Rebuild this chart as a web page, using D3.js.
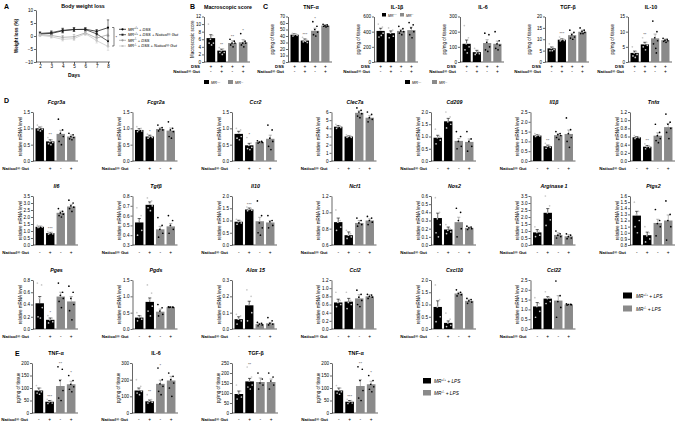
<!DOCTYPE html>
<html>
<head>
<meta charset="utf-8">
<script src="https://cdn.jsdelivr.net/npm/d3@7"></script>
<style>
body { margin: 0; background: #fff; }
text { font-family: "Liberation Sans", Arial, sans-serif; }
</style>
</head>
<body>
<svg id="fig" width="677" height="423"></svg>
<script>
// ---------- data ----------
var days = [2, 3, 4, 5, 6, 7, 8];
var weightGeno = ["+/+", "+/+", "-/-", "-/-"];
var weightLabels = [" + DSS", " + DSS + Naticol® Gut", " + DSS", " + DSS + Naticol® Gut"];
var weightMean = [
	[0.8, 1.0, 2.0, 2.5, 2.6, 1.8, 3.2],
	[1.0, 1.3, 2.2, 2.5, 2.5, 0.8, -2.0],
	[0.5, 0.2, -0.5, -0.3, 1.2, -0.8, 0.5],
	[0.3, -0.3, -1.3, -1.0, 0.9, -1.8, -4.0]
];
var weightErr = [
	[0.6, 0.6, 0.8, 0.7, 0.6, 0.7, 3.0],
	[0.6, 0.7, 0.8, 0.7, 0.6, 0.8, 2.0],
	[0.5, 0.5, 0.7, 0.9, 0.6, 0.8, 2.0],
	[0.5, 0.5, 0.6, 0.7, 0.7, 0.9, 1.5]
];
var weightTicks = [-10, -5, 0, 5, 10];

var scoreTicks = [0, 12, 2];
var scoreMean = [6.3, 3.0, 5.0, 5.2];
var scoreErr = [0.9, 0.4, 0.6, 0.7];
var scoreDots = [[10, 7, 6, 5, 5, 4.5], [3.8, 3.5, 3, 2.5, 2.5, 2], [6, 5.5, 5, 5, 4.5, 4], [7.5, 5.5, 5, 5, 4.5, 4]];
var scoreStars = ["", "**", "**", "*"];

var cytoNames = ["TNF-α", "IL-1β", "IL-6", "TGF-β", "IL-10"];
var cytoTicks = [[0, 70, 10], [0, 600, 200], [0, 300, 100], [0, 20, 5], [0, 15, 5]];
var cytoMean = [[42, 33, 48, 56], [410, 380, 410, 420], [120, 65, 125, 120], [6, 9.8, 11.8, 13.3], [3, 5.8, 7.8, 7.2]];
var cytoErr = [[1.5, 2.5, 4, 1.5], [35, 30, 20, 40], [25, 12, 22, 18], [0.6, 0.4, 0.8, 0.7], [0.6, 0.7, 1.4, 0.4]];
var cytoDots = [
	[[44, 43, 42, 41, 40, 43], [38, 35, 33, 30, 31, 32], [62, 55, 50, 46, 42, 40], [58, 57, 56, 55, 55, 54]],
	[[500, 460, 420, 380, 330, 350], [450, 420, 380, 340, 320], [470, 440, 410, 400, 380, 360], [520, 490, 450, 400, 360, 320]],
	[[240, 160, 120, 100, 80, 60], [90, 70, 60, 55, 50], [190, 180, 130, 100, 80, 70], [200, 140, 120, 110, 90, 80]],
	[[8, 6.5, 6, 5.5, 5, 5], [11, 10.2, 9.8, 9.5, 9.3], [14, 13, 12, 11, 10.5, 10], [15, 14, 13.5, 13, 12.5, 12.5]],
	[[5, 3.5, 3, 2.5, 2, 1.5], [8, 6.5, 6, 5.5, 5, 4], [13.5, 10, 8, 7, 6, 4.5, 3], [7.8, 7.5, 7.2, 7, 6.8, 6.5]]
];
var cytoStars = [["", "***", "*", ""], ["", "", "", ""], ["", "", "", ""], ["", "***", "", ""], ["", "**", "", ""]];

var geneNames = ["Fcgr3a", "Fcgr2a", "Ccr2", "Clec7a", "Cd209", "Il1β", "Tnfα",
	"Il6", "Tgfβ", "Il10", "Ncf1", "Nos2", "Arginase 1", "Ptgs2",
	"Pges", "Pgds", "Alox 15", "Ccl2", "Cxcl10", "Ccl22"];
var geneTicks = [[0, 1.5, 0.5], [0, 1.5, 0.5], [0, 1.5, 0.5], [0, 6, 1], [0, 2, 0.5], [0, 2.5, 0.5], [0, 1.2, 0.2],
	[0, 3.5, 0.5], [0.3, 0.8, 0.1], [0, 2, 0.5], [0.6, 1.2, 0.2], [0, 0.6, 0.1], [0, 3.5, 0.5], [0.8, 1.6, 0.1],
	[0, 0.8, 0.2], [0, 1.5, 0.5], [0, 0.3, 0.1], [0, 1.2, 0.2], [0, 2, 0.5], [0, 2.5, 0.5]];
var geneMean = [[1.0, 0.6, 0.83, 0.75], [0.95, 0.75, 0.98, 0.93], [0.83, 0.48, 0.58, 0.68], [4.2, 3.0, 5.9, 5.3],
	[0.95, 1.62, 0.82, 0.78], [1.3, 0.75, 1.32, 1.38], [0.58, 0.35, 0.62, 0.83],
	[1.3, 0.85, 2.3, 2.75], [0.53, 0.71, 0.46, 0.49], [0.95, 1.45, 0.97, 0.92], [0.88, 0.72, 0.87, 0.9],
	[0.33, 0.19, 0.28, 0.21], [0.9, 2.3, 0.72, 0.62], [1.28, 0.96, 1.16, 1.2],
	[0.42, 0.15, 0.53, 0.45], [0.35, 0.83, 0.53, 0.67], [0.06, 0.145, 0.03, 0.035], [0.65, 0.67, 0.75, 0.8],
	[0.9, 0.25, 1.45, 1.15], [1.15, 1.55, 1.45, 1.25]];
var geneErr = [[0.04, 0.05, 0.11, 0.05], [0.04, 0.04, 0.04, 0.08], [0.08, 0.06, 0.02, 0.11], [0.15, 0.08, 0.25, 0.25],
	[0.1, 0.12, 0.1, 0.12], [0.04, 0.06, 0.07, 0.2], [0.02, 0.03, 0.07, 0.09],
	[0.04, 0.05, 0.12, 0.15], [0.04, 0.03, 0.03, 0.03], [0.06, 0.06, 0.16, 0.08], [0.05, 0.04, 0.03, 0.02],
	[0.06, 0.03, 0.06, 0.01], [0.2, 0.3, 0.15, 0.12], [0.07, 0.05, 0.06, 0.09],
	[0.11, 0.03, 0.07, 0.08], [0.06, 0.12, 0.08, 0.01], [0.015, 0.025, 0.005, 0.005], [0.08, 0.08, 0.09, 0.04],
	[0.25, 0.08, 0.05, 0.06], [0.2, 0.1, 0.25, 0.02]];
var geneDots = [
	[[1.1, 1.05, 1.0, 0.97, 0.95, 0.92], [0.72, 0.65, 0.6, 0.57, 0.53, 0.5], [1.28, 0.95, 0.85, 0.75, 0.6, 0.5], [0.85, 0.8, 0.75, 0.72, 0.68, 0.65]],
	[[1.05, 1.0, 0.95, 0.92, 0.9], [0.82, 0.76, 0.74, 0.72, 0.7], [1.1, 1.02, 0.98, 0.95, 0.92], [1.2, 1.0, 0.95, 0.9, 0.75, 0.7]],
	[[1.0, 0.95, 0.85, 0.75, 0.7, 0.65], [0.72, 0.55, 0.48, 0.42, 0.38, 0.35], [0.62, 0.6, 0.58, 0.57, 0.55], [1.1, 0.95, 0.7, 0.6, 0.45, 0.35]],
	[[4.5, 4.3, 4.2, 4.1, 4.0], [3.2, 3.1, 3.0, 2.9, 2.9], [6.5, 6.2, 6.0, 5.8, 5.5, 5.3], [6.0, 5.7, 5.3, 5.1, 4.8]],
	[[1.3, 1.0, 0.95, 0.85, 0.7], [2.0, 1.8, 1.6, 1.5, 1.35], [1.2, 1.0, 0.8, 0.6, 0.5], [1.2, 0.9, 0.8, 0.6, 0.4]],
	[[1.4, 1.35, 1.3, 1.28, 1.25], [0.9, 0.8, 0.75, 0.7, 0.65], [1.5, 1.4, 1.35, 1.3, 1.2, 1.1], [2.2, 1.6, 1.4, 1.2, 1.0, 0.7]],
	[[0.62, 0.6, 0.58, 0.57, 0.55], [0.42, 0.38, 0.35, 0.33, 0.3], [0.9, 0.7, 0.62, 0.55, 0.5, 0.45], [1.15, 0.95, 0.9, 0.8, 0.7, 0.55]],
	[[1.4, 1.35, 1.3, 1.28, 1.25], [0.95, 0.9, 0.85, 0.8, 0.78], [2.6, 2.4, 2.3, 2.2, 2.1, 2.0], [3.2, 3.0, 2.8, 2.7, 2.6, 2.4]],
	[[0.68, 0.6, 0.55, 0.45, 0.4], [0.78, 0.75, 0.72, 0.7, 0.68, 0.65], [0.58, 0.5, 0.46, 0.42, 0.38], [0.6, 0.55, 0.5, 0.46, 0.42]],
	[[1.05, 1.0, 0.95, 0.9, 0.85], [1.55, 1.5, 1.45, 1.42, 1.4], [1.8, 1.2, 0.9, 0.7, 0.5, 0.4], [1.2, 1.0, 0.95, 0.8, 0.7]],
	[[1.03, 0.9, 0.88, 0.82, 0.78], [0.78, 0.74, 0.72, 0.7, 0.68], [0.93, 0.9, 0.87, 0.85, 0.83], [0.95, 0.93, 0.9, 0.88, 0.85]],
	[[0.58, 0.4, 0.32, 0.25, 0.15, 0.1], [0.25, 0.2, 0.18, 0.16, 0.14], [0.45, 0.4, 0.3, 0.2, 0.1], [0.23, 0.22, 0.21, 0.2, 0.19]],
	[[1.3, 1.0, 0.9, 0.7, 0.6], [3.5, 2.8, 2.3, 1.8, 1.4], [1.0, 0.8, 0.7, 0.6, 0.5], [0.8, 0.7, 0.6, 0.5, 0.45]],
	[[1.5, 1.35, 1.3, 1.2, 1.1, 1.0], [1.1, 1.0, 0.95, 0.9, 0.85], [1.38, 1.2, 1.15, 1.1, 0.95], [1.52, 1.3, 1.2, 1.1, 0.88]],
	[[0.75, 0.72, 0.5, 0.35, 0.2, 0.18], [0.22, 0.18, 0.15, 0.12, 0.1], [0.75, 0.6, 0.55, 0.5, 0.45, 0.35], [0.7, 0.6, 0.5, 0.4, 0.3, 0.15]],
	[[0.5, 0.4, 0.35, 0.3, 0.25], [1.35, 1.1, 0.9, 0.7, 0.55, 0.4], [0.75, 0.65, 0.55, 0.45, 0.4], [0.68, 0.67, 0.67, 0.66, 0.66]],
	[[0.09, 0.08, 0.06, 0.05, 0.03], [0.24, 0.2, 0.15, 0.1, 0.05], [0.04, 0.035, 0.03, 0.025, 0.02], [0.07, 0.05, 0.035, 0.03, 0.025]],
	[[0.9, 0.7, 0.65, 0.6, 0.55], [0.9, 0.7, 0.65, 0.6, 0.5], [0.95, 0.85, 0.78, 0.7, 0.6, 0.55], [0.85, 0.83, 0.8, 0.78, 0.75]],
	[[1.8, 1.2, 0.9, 0.5, 0.3], [0.65, 0.4, 0.25, 0.15, 0.1], [1.6, 1.5, 1.45, 1.4, 1.35], [1.25, 1.2, 1.15, 1.1, 1.05]],
	[[1.6, 1.3, 1.15, 0.9, 0.6], [1.9, 1.6, 1.55, 1.4, 1.3], [2.45, 1.7, 1.4, 1.1, 0.6], [1.28, 1.26, 1.25, 1.24, 1.22]]
];
var geneStars = [["", "**", "", ""], ["", "*", "", ""], ["", "*", "", ""], ["", "", "", ""], ["", "", "", ""],
	["", "**", "", ""], ["", "**", "", ""], ["", "***", "", ""], ["", "", "", ""], ["", "***", "", ""],
	["", "", "", ""], ["", "", "", ""], ["", "", "", ""], ["", "", "", ""], ["", "*", "", ""],
	["", "", "", ""], ["", "", "", ""], ["", "", "", ""], ["", "", "", ""], ["", "", "", ""]];

var lpsNames = ["TNF-α", "IL-6", "TGF-β", "TNF-α"];
var lpsTicks = [[0, 200, 50], [0, 300, 100], [0, 250, 50], [0, 200, 50]];
var lpsMean = [[90, 45, 108, 115], [135, 70, 175, 195], [95, 158, 155, 155], [90, 45, 108, 115]];
var lpsErr = [[10, 5, 25, 12], [15, 8, 22, 25], [15, 15, 20, 15], [10, 5, 25, 12]];
var lpsDots = [
	[[110, 100, 90, 85, 80, 75], [55, 50, 45, 40, 38], [185, 175, 130, 90, 60, 50], [150, 130, 115, 105, 95, 85]],
	[[200, 160, 140, 130, 120, 110], [110, 80, 70, 65, 60], [270, 200, 175, 160, 130, 110], [240, 220, 200, 180, 150, 100]],
	[[140, 110, 95, 80, 70], [230, 180, 160, 140, 130, 120], [200, 170, 150, 140, 120], [200, 180, 160, 140, 120]],
	[[110, 100, 90, 85, 80, 75], [55, 50, 45, 40, 38], [185, 175, 130, 90, 60, 50], [150, 130, 115, 105, 95, 85]]
];
var lpsStars = [["", "***", "**", "*"], ["", "**", "*", ""], ["", "**", "", ""], ["", "***", "**", "*"]];

var dssSigns = ["+", "+", "+", "+"];
var naticolSigns = ["-", "+", "-", "+"];
var barColors = ["#000", "#000", "#8a8a8a", "#8a8a8a"];
var dotColors = ["#c8c8c8", "#c8c8c8", "#000", "#000"];
var lineColors = ["#000", "#222", "#9a9a9a", "#c4c4c4"];
var jitter = [-0.28, 0.22, -0.05, 0.3, -0.2, 0.08, 0.15];

// ---------- drawing ----------
var svg = d3.select("#fig");

function mrText(sel, geno, rest, fs) {
	sel.append("tspan").attr("font-style", "italic").text("MR");
	sel.append("tspan").attr("font-size", fs * 0.65).attr("dy", -fs * 0.35).text(geno);
	sel.append("tspan").attr("dy", fs * 0.35).attr("font-style", "italic").text(rest);
}

function panelLetter(t, x, y) {
	svg.append("text").attr("x", x).attr("y", y).attr("font-size", 7).attr("font-weight", "bold").text(t);
}

function styleAxis(ag) {
	ag.attr("font-size", 4.6).attr("font-family", "Liberation Sans, Arial, sans-serif");
	ag.selectAll("path,line").attr("stroke", "#000").attr("stroke-width", 0.6);
}

function barPanel(o) {
	var g = svg.append("g");
	var y = d3.scaleLinear().domain([o.ticks[0], o.ticks[1]]).range([o.bot, o.top]);
	var x = d3.scaleBand().domain(d3.range(o.mean.length))
		.range([o.ax + 2, o.ax + o.w]).paddingInner(0.2).paddingOuter(0.05);
	var tv = d3.range(o.ticks[0], o.ticks[1] + o.ticks[2] / 2, o.ticks[2]);
	var dec = o.ticks[2] < 1 ? 1 : 0;

	var yAxis = d3.axisLeft(y).tickValues(tv).tickSize(2).tickSizeOuter(0).tickPadding(1)
		.tickFormat(d3.format("." + dec + "f"));
	styleAxis(g.append("g").attr("transform", "translate(" + o.ax + ",0)").call(yAxis));

	g.append("line").attr("x1", o.ax).attr("x2", o.ax + o.w + 2)
		.attr("y1", o.bot).attr("y2", o.bot).attr("stroke", "#000").attr("stroke-width", 0.6);

	g.selectAll("rect.bar").data(o.mean).enter().append("rect")
		.attr("x", function(d, i) { return x(i); })
		.attr("width", x.bandwidth())
		.attr("y", function(d) { return y(d); })
		.attr("height", function(d) { return o.bot - y(d); })
		.attr("fill", function(d, i) { return barColors[i]; });

	o.mean.forEach(function(m, i) {
		var cx = x(i) + x.bandwidth() / 2;
		var yt = y(m + o.err[i]);
		g.append("line").attr("x1", cx).attr("x2", cx).attr("y1", y(m)).attr("y2", yt)
			.attr("stroke", barColors[i]).attr("stroke-width", 0.6);
		g.append("line").attr("x1", cx - 1.6).attr("x2", cx + 1.6).attr("y1", yt).attr("y2", yt)
			.attr("stroke", barColors[i]).attr("stroke-width", 0.6);
		var pts = o.dots[i];
		g.selectAll(null).data(pts).enter().append("circle")
			.attr("cx", function(d, k) { return cx + jitter[k % jitter.length] * x.bandwidth(); })
			.attr("cy", function(d) { return y(d); })
			.attr("r", 0.85)
			.attr("fill", dotColors[i]);
		if (o.stars && o.stars[i]) {
			var top = Math.min(yt, y(d3.max(pts)));
			g.append("text").attr("x", cx).attr("y", top - 1.5).attr("text-anchor", "middle")
				.attr("font-size", 4.2).attr("fill", i == 0 ? "#bbb" : "#444").text(o.stars[i]);
		}
	});

	g.append("text").attr("x", o.ax + 2 + o.w / 2).attr("y", o.top - 8)
		.attr("text-anchor", "middle").attr("font-size", 5.3).attr("font-weight", "bold")
		.attr("font-style", o.italic ? "italic" : "normal").text(o.title);

	g.append("text").attr("transform", "translate(" + (o.ax - o.yoff) + "," + ((o.top + o.bot) / 2) + ") rotate(-90)")
		.attr("text-anchor", "middle").attr("font-size", 4.5).text(o.ylab);

	o.rows.forEach(function(r, k) {
		var yy = o.bot + o.rowGap + k * 5;
		g.append("text").attr("x", o.ax - 4).attr("y", yy).attr("text-anchor", "end")
			.attr("font-size", 4.4).attr("font-weight", "bold").text(r[0]);
		r[1].forEach(function(s, i) {
			g.append("text").attr("x", x(i) + x.bandwidth() / 2).attr("y", yy).attr("text-anchor", "middle")
				.attr("font-size", 4.8).text(s);
		});
	});
}

// panel A
panelLetter("A", 4, 9);
(function() {
	var g = svg.append("g");
	var x = d3.scaleLinear().domain([2, 8]).range([40, 108]);
	var y = d3.scaleLinear().domain([-10, 10]).range([62, 10]);
	var yAxis = d3.axisLeft(y).tickValues(weightTicks).tickSize(2).tickSizeOuter(0).tickPadding(1)
		.tickFormat(d3.format("d"));
	styleAxis(g.append("g").attr("transform", "translate(36,0)").call(yAxis));
	var xAxis = d3.axisBottom(x).tickValues(days).tickSize(2).tickSizeOuter(0).tickPadding(1)
		.tickFormat(d3.format("d"));
	var xg = g.append("g").attr("transform", "translate(0,62)").call(xAxis);
	styleAxis(xg);
	xg.select("path").remove();
	g.append("line").attr("x1", 36).attr("x2", 110).attr("y1", 62).attr("y2", 62)
		.attr("stroke", "#000").attr("stroke-width", 0.6);

	var line = d3.line().x(function(d, i) { return x(days[i]); }).y(function(d) { return y(d); });
	weightMean.forEach(function(s, k) {
		g.append("path").attr("d", line(s)).attr("fill", "none")
			.attr("stroke", lineColors[k]).attr("stroke-width", 0.7);
		s.forEach(function(v, i) {
			var e = weightErr[k][i];
			g.append("line").attr("x1", x(days[i])).attr("x2", x(days[i]))
				.attr("y1", y(v - e)).attr("y2", y(v + e)).attr("stroke", lineColors[k]).attr("stroke-width", 0.5);
			[v - e, v + e].forEach(function(c) {
				g.append("line").attr("x1", x(days[i]) - 1.2).attr("x2", x(days[i]) + 1.2)
					.attr("y1", y(c)).attr("y2", y(c)).attr("stroke", lineColors[k]).attr("stroke-width", 0.5);
			});
			if (k % 2 == 0) {
				g.append("circle").attr("cx", x(days[i])).attr("cy", y(v)).attr("r", 1.1).attr("fill", lineColors[k]);
			} else {
				g.append("rect").attr("x", x(days[i]) - 1).attr("y", y(v) - 1).attr("width", 2).attr("height", 2)
					.attr("fill", lineColors[k]);
			}
		});
	});

	g.append("text").attr("x", 83).attr("y", 8).attr("text-anchor", "middle")
		.attr("font-size", 5.3).attr("font-weight", "bold").text("Body weight loss");
	g.append("text").attr("x", 74).attr("y", 77).attr("text-anchor", "middle")
		.attr("font-size", 5).attr("font-weight", "bold").text("Days");
	g.append("text").attr("transform", "translate(18,36) rotate(-90)").attr("text-anchor", "middle")
		.attr("font-size", 4.6).attr("font-weight", "bold").text("Weight loss (%)");

	// significance bracket at day 8
	g.append("path").attr("d", "M112,27.5H114V46H112").attr("fill", "none")
		.attr("stroke", "#000").attr("stroke-width", 0.5);
	g.append("text").attr("x", 115.5).attr("y", 39).attr("font-size", 4).text("*");

	var ly = [29.3, 34.7, 40.3, 46];
	weightLabels.forEach(function(l, k) {
		g.append("line").attr("x1", 119).attr("x2", 126).attr("y1", ly[k]).attr("y2", ly[k])
			.attr("stroke", lineColors[k]).attr("stroke-width", 0.7);
		if (k % 2 == 0) {
			g.append("circle").attr("cx", 122.5).attr("cy", ly[k]).attr("r", 1.1).attr("fill", lineColors[k]);
		} else {
			g.append("rect").attr("x", 121.5).attr("y", ly[k] - 1).attr("width", 2).attr("height", 2).attr("fill", lineColors[k]);
		}
		var t = g.append("text").attr("x", 128).attr("y", ly[k] + 1.4).attr("font-size", 4);
		mrText(t, weightGeno[k], l, 4);
	});
})();

// panel B
panelLetter("B", 190, 9);
barPanel({ ax: 204, top: 16.5, bot: 62, w: 44, ticks: scoreTicks, mean: scoreMean, err: scoreErr, dots: scoreDots,
	stars: scoreStars, title: "Macroscopic score", italic: false, ylab: "Macroscopic score", yoff: 10.5,
	rows: [["DSS", dssSigns], ["Naticol® Gut", naticolSigns]], rowGap: 6 });

// panel C
panelLetter("C", 263, 9);
var cytoAx = [288, 374, 460, 545, 628];
cytoNames.forEach(function(n, i) {
	barPanel({ ax: cytoAx[i], top: 16.5, bot: 62, w: 42, ticks: cytoTicks[i], mean: cytoMean[i], err: cytoErr[i],
		dots: cytoDots[i], stars: cytoStars[i], title: n, italic: false, ylab: "pg/mg of tissue", yoff: 14,
		rows: [["DSS", dssSigns], ["Naticol® Gut", naticolSigns]], rowGap: 6 });
});

function legendPair(x1, x2, y, bw, bh, fs, suffix) {
	["+/+", "-/-"].forEach(function(geno, k) {
		var xx = k == 0 ? x1 : x2;
		svg.append("rect").attr("x", xx).attr("y", y - bh).attr("width", bw).attr("height", bh)
			.attr("fill", barColors[k * 2]);
		var t = svg.append("text").attr("x", xx + bw + 2).attr("y", y).attr("font-size", fs);
		mrText(t, geno, suffix, fs);
	});
}
legendPair(204, 228, 84, 5, 4, 3.8, "");
legendPair(405, 432, 84, 5, 4, 3.8, "");
legendPair(382, 400, 16.5, 4, 3.5, 3.5, "");

// panel D
panelLetter("D", 4, 103);
var rowTop = [112, 196, 280];
geneNames.forEach(function(n, i) {
	var r = Math.floor(i / 7), c = i % 7;
	barPanel({ ax: 33 + c * 99.5, top: rowTop[r], bot: rowTop[r] + 49, w: 43, ticks: geneTicks[i],
		mean: geneMean[i], err: geneErr[i], dots: geneDots[i], stars: geneStars[i], title: n, italic: true,
		ylab: "relative mRNA level", yoff: 11.5, rows: [["Naticol® Gut", naticolSigns]], rowGap: 8.5 });
});
// legend for D
["+/+", "-/-"].forEach(function(geno, k) {
	var yy = 296 + k * 13;
	svg.append("rect").attr("x", 623).attr("y", yy - 3.5).attr("width", 9).attr("height", 6).attr("fill", barColors[k * 2]);
	var t = svg.append("text").attr("x", 636).attr("y", yy + 1.8).attr("font-size", 4.8);
	mrText(t, geno, " + LPS", 4.8);
});

// panel E
panelLetter("E", 15, 356);
lpsNames.forEach(function(n, i) {
	barPanel({ ax: 32 + i * 100, top: 363, bot: 413, w: 44, ticks: lpsTicks[i], mean: lpsMean[i], err: lpsErr[i],
		dots: lpsDots[i], stars: lpsStars[i], title: n, italic: false, ylab: "pg/mg of tissue", yoff: 12.5,
		rows: [["Naticol® Gut", naticolSigns]], rowGap: 7.5 });
});
["+/+", "-/-"].forEach(function(geno, k) {
	var yy = 381 + k * 12;
	svg.append("rect").attr("x", 423).attr("y", yy - 3).attr("width", 8).attr("height", 5.5).attr("fill", barColors[k * 2]);
	var t = svg.append("text").attr("x", 434).attr("y", yy + 1.8).attr("font-size", 4.8);
	mrText(t, geno, " + LPS", 4.8);
});
</script>
</body>
</html>
